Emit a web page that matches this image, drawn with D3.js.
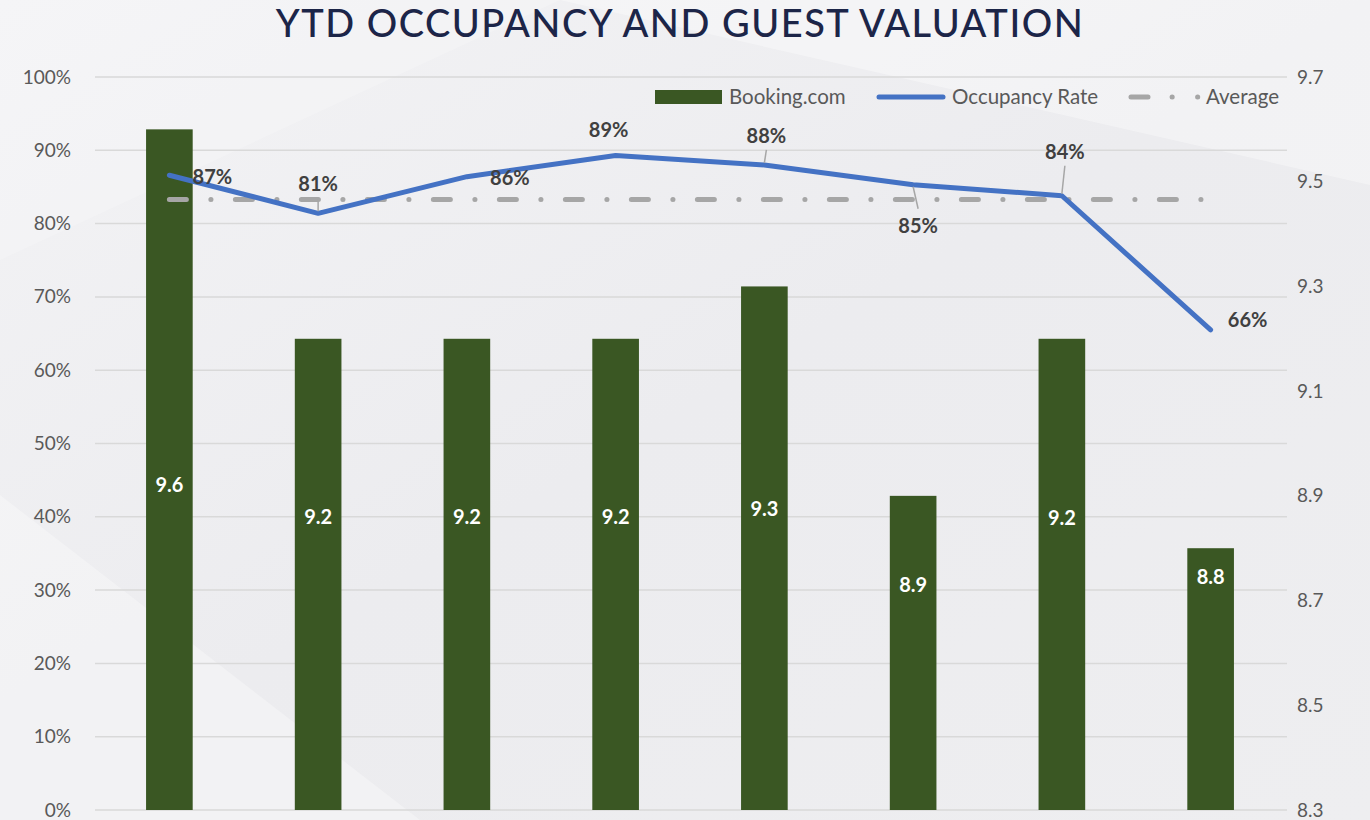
<!DOCTYPE html>
<meta charset="utf-8">
<style>
body { margin: 0; background: #eeeef0; }
svg text { font-family: Lato, "Open Sans", sans-serif; }
.tick line, .domain { display: none; }
</style>
<svg width="1370" height="820"></svg>
<script src="https://d3js.org/d3.v7.min.js"></script>
<script>

// chart data
var periods   = ["1", "2", "3", "4", "5", "6", "7", "8"];
var booking   = [9.6, 9.2, 9.2, 9.2, 9.3, 8.9, 9.2, 8.8];
var occupancy = [0.866, 0.814, 0.864, 0.893, 0.880, 0.853, 0.838, 0.655];
var leftTicks  = [0, 0.1, 0.2, 0.3, 0.4, 0.5, 0.6, 0.7, 0.8, 0.9, 1];
var rightTicks = [8.3, 8.5, 8.7, 8.9, 9.1, 9.3, 9.5, 9.7];

// label placement (style, not data)
var barLabelAt = [8.92, 8.86, 8.86, 8.86, 8.875, 8.73, 8.858, 8.745];
var occLabelOff = [[43, 2], [0, -29], [43, 1], [-7, -25], [2, -29], [5, 41], [3, -44], [37, -10]];
var occLeader   = [false, true, false, false, true, true, true, false];

var svg = d3.select("svg"),
    W = 1370, H = 820,
    plotL = 95, plotR = 1285, plotT = 77, plotB = 810;

// background
var defs = svg.append("defs");
var grad = defs.append("linearGradient").attr("id", "bg")
    .attr("x1", 0).attr("y1", 0).attr("x2", 1).attr("y2", 1);
grad.append("stop").attr("offset", 0).attr("stop-color", "#f3f3f5");
grad.append("stop").attr("offset", 0.5).attr("stop-color", "#ececef");
grad.append("stop").attr("offset", 1).attr("stop-color", "#eeeef0");
svg.append("rect").attr("width", W).attr("height", H).attr("fill", "url(#bg)");
svg.append("path").attr("d", "M560,0L1370,0L1370,185Z").attr("fill", "#fff").attr("opacity", 0.35);
svg.append("path").attr("d", "M0,495L420,820L0,820Z").attr("fill", "#fff").attr("opacity", 0.3);
svg.append("path").attr("d", "M0,0L560,0L0,260Z").attr("fill", "#fff").attr("opacity", 0.2);

var x = d3.scaleBand().domain(periods).range([plotL, plotR]);
var barW = x.bandwidth() / 3.19;
var cx = function(d) { return x(d) + x.bandwidth() / 2; };

var yL = d3.scaleLinear().domain([0, 1]).range([plotB, plotT]);
var yR = d3.scaleLinear().domain([8.3, 9.7]).range([plotB, plotT]);

// gridlines
svg.append("g").selectAll("line")
  .data(leftTicks)
  .enter().append("line")
    .attr("x1", plotL).attr("x2", plotR + 2)
    .attr("y1", function(d) { return yL(d); })
    .attr("y2", function(d) { return yL(d); })
    .attr("stroke", "#d9d9d9")
    .attr("stroke-width", 1.5);

// axes
svg.append("g")
    .attr("transform", "translate(" + (plotL - 18) + ",0)")
    .call(d3.axisLeft(yL).tickValues(leftTicks).tickFormat(d3.format(".0%")).tickSize(0).tickPadding(6))
    .selectAll("text")
      .attr("font-size", 19).attr("fill", "#595959")
      .style("font-family", "Lato, sans-serif");

svg.append("g")
    .attr("transform", "translate(" + (plotR + 6) + ",0)")
    .call(d3.axisRight(yR).tickValues(rightTicks).tickFormat(d3.format(".1f")).tickSize(0).tickPadding(6))
    .selectAll("text")
      .attr("font-size", 19).attr("fill", "#595959")
      .style("font-family", "Lato, sans-serif");

// bars
var bars = svg.append("g").selectAll("g")
  .data(periods)
  .enter().append("g");

bars.append("rect")
    .attr("x", function(d) { return cx(d) - barW / 2; })
    .attr("y", function(d, i) { return yR(booking[i]); })
    .attr("width", barW)
    .attr("height", function(d, i) { return plotB - yR(booking[i]); })
    .attr("fill", "#3a5723");

bars.append("text")
    .attr("x", cx)
    .attr("y", function(d, i) { return yR(barLabelAt[i]); })
    .attr("dy", "0.35em")
    .attr("text-anchor", "middle")
    .attr("font-size", 20)
    .attr("font-weight", "bold")
    .attr("fill", "#fff")
    .text(function(d, i) { return booking[i].toFixed(1); });

// average line
var avg = d3.mean(occupancy);
svg.append("line")
    .attr("x1", cx(periods[0]))
    .attr("x2", cx(periods[periods.length - 1]))
    .attr("y1", yL(avg)).attr("y2", yL(avg))
    .attr("stroke", "#a6a6a6")
    .attr("stroke-width", 5)
    .attr("stroke-linecap", "round")
    .attr("stroke-dasharray", "17 24.5 0.1 24.4");

// occupancy line
var line = d3.line()
    .x(function(d, i) { return cx(periods[i]); })
    .y(function(d) { return yL(d); });

svg.append("path")
    .datum(occupancy)
    .attr("d", line)
    .attr("fill", "none")
    .attr("stroke", "#4472c4")
    .attr("stroke-width", 5)
    .attr("stroke-linecap", "round")
    .attr("stroke-linejoin", "round");

// leader lines + labels
var pts = occupancy.map(function(v, i) {
  return { v: v, px: cx(periods[i]), py: yL(v), dx: occLabelOff[i][0], dy: occLabelOff[i][1], leader: occLeader[i] };
});

svg.append("g").selectAll("line")
  .data(pts.filter(function(p) { return p.leader; }))
  .enter().append("line")
    .attr("x1", function(p) { return p.px; })
    .attr("y1", function(p) { return p.py + (p.dy < 0 ? -2 : 2); })
    .attr("x2", function(p) { return p.px + p.dx; })
    .attr("y2", function(p) { return p.py + p.dy + (p.dy < 0 ? 14 : -17); })
    .attr("stroke", "#a6a6a6")
    .attr("stroke-width", 1.5);

svg.append("g").selectAll("text")
  .data(pts)
  .enter().append("text")
    .attr("x", function(p) { return p.px + p.dx; })
    .attr("y", function(p) { return p.py + p.dy; })
    .attr("dy", "0.35em")
    .attr("text-anchor", "middle")
    .attr("font-size", 20)
    .attr("font-weight", "bold")
    .attr("fill", "#404040")
    .text(function(p) { return Math.round(p.v * 100) + "%"; });

// legend
var lg = svg.append("g").attr("font-size", 20.5).attr("fill", "#595959");
lg.append("rect").attr("x", 655).attr("y", 90).attr("width", 67).attr("height", 14).attr("fill", "#3a5723");
lg.append("text").attr("x", 729).attr("y", 97).attr("dy", "0.35em").text("Booking.com");
lg.append("line").attr("x1", 879).attr("x2", 943).attr("y1", 97).attr("y2", 97)
    .attr("stroke", "#4472c4").attr("stroke-width", 5).attr("stroke-linecap", "round");
lg.append("text").attr("x", 952).attr("y", 97).attr("dy", "0.35em").text("Occupancy Rate");
lg.append("line").attr("x1", 1131).attr("x2", 1200).attr("y1", 97).attr("y2", 97)
    .attr("stroke", "#a6a6a6").attr("stroke-width", 5).attr("stroke-linecap", "round")
    .attr("stroke-dasharray", "17 24.1 0.1 25.4 0.1 100");
lg.append("text").attr("x", 1206).attr("y", 97).attr("dy", "0.35em").text("Average");

// title
svg.append("text")
    .attr("x", 680).attr("y", 37)
    .attr("text-anchor", "middle")
    .attr("font-size", 38)
    .attr("font-weight", 500)
    .attr("letter-spacing", 1.5)
    .attr("fill", "#1c2548")
    .text("YTD OCCUPANCY AND GUEST VALUATION");

</script>
